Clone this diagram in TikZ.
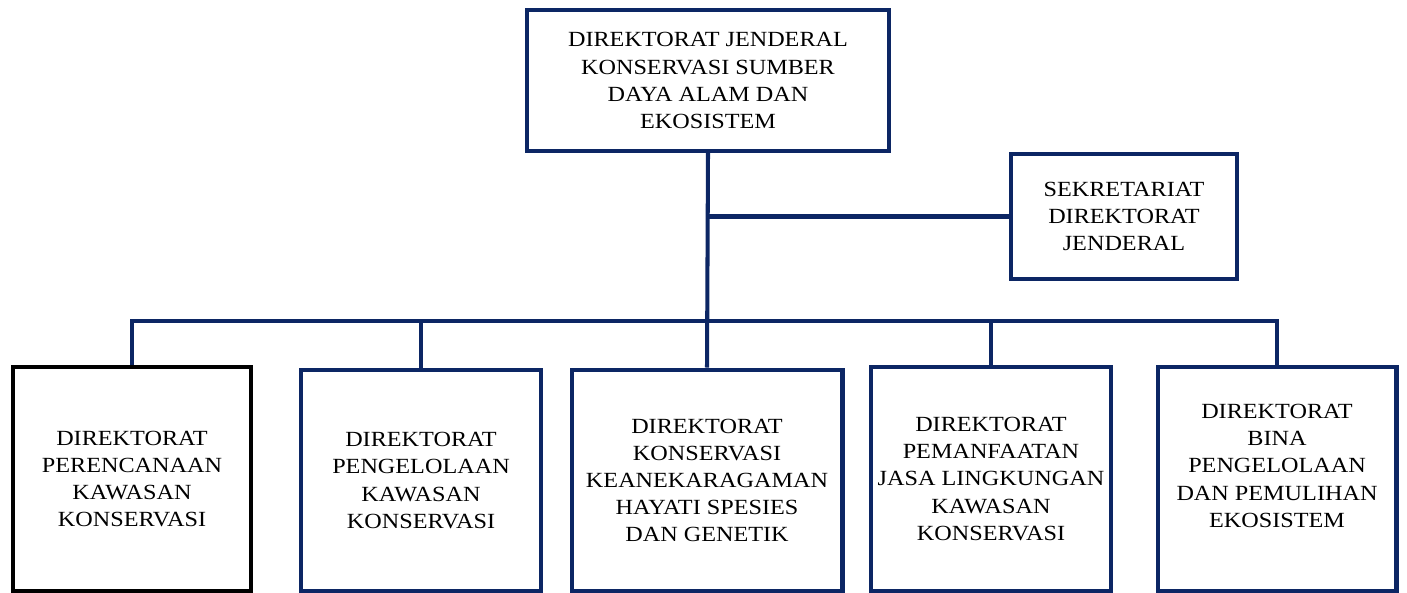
\documentclass[tikz,border=0pt]{standalone}
\usepackage{fontspec}
\setmainfont{Liberation Serif}[FakeStretch=1.12]
\usetikzlibrary{calc}

\definecolor{navy}{RGB}{12,38,100}

\begin{document}
\begin{tikzpicture}[x=0.02cm,y=-0.02cm,
  unit/.style={draw=navy,line width=2.3pt,fill=white,align=center,inner sep=0pt,
    font=\fontsize{12.3}{15.4}\selectfont},
  link/.style={draw=navy,line width=2.3pt}]

\useasboundingbox (0,0) rectangle (1407,592);

\coordinate (bus) at (707,321);

\node[unit,minimum width=7.24cm,minimum height=2.82cm] (dirjen) at (708,80.5)
  {DIREKTORAT JENDERAL\\KONSERVASI SUMBER\\DAYA ALAM DAN\\EKOSISTEM};
\node[unit,minimum width=4.52cm,minimum height=2.5cm] (sekre) at (1124,216.5)
  {SEKRETARIAT\\DIREKTORAT\\JENDERAL};

\node[unit,draw=black,minimum width=4.76cm,minimum height=4.5cm] (pkk) at (132,479)
  {DIREKTORAT\\PERENCANAAN\\KAWASAN\\KONSERVASI};
\node[unit,minimum width=4.8cm,minimum height=4.44cm] (pgk) at (421,480.5)
  {DIREKTORAT\\PENGELOLAAN\\KAWASAN\\KONSERVASI};
\node[unit,minimum width=5.42cm,minimum height=4.44cm] (kkh) at (707,480.5)
  {DIREKTORAT\\KONSERVASI\\KEANEKARAGAMAN\\HAYATI SPESIES\\DAN GENETIK};
\node[unit,minimum width=4.8cm,minimum height=4.5cm] (pjl) at (991,479)
  {DIREKTORAT\\PEMANFAATAN\\JASA LINGKUNGAN\\KAWASAN\\KONSERVASI};
\node[unit,minimum width=4.78cm,minimum height=4.5cm,text depth=15pt] (bpe) at (1277,479)
  {DIREKTORAT\\BINA\\PENGELOLAAN\\DAN PEMULIHAN\\EKOSISTEM};

\draw[link] (dirjen.south) -- (kkh.north);
\draw[link] (dirjen.south |- sekre.west) -- (sekre.west);
\draw[link] (pkk.north) |- (bus) -| (bpe.north);
\draw[link] (pgk.north) -- (pgk.north |- bus);
\draw[link] (pjl.north) -- (pjl.north |- bus);

\end{tikzpicture}
\end{document}
